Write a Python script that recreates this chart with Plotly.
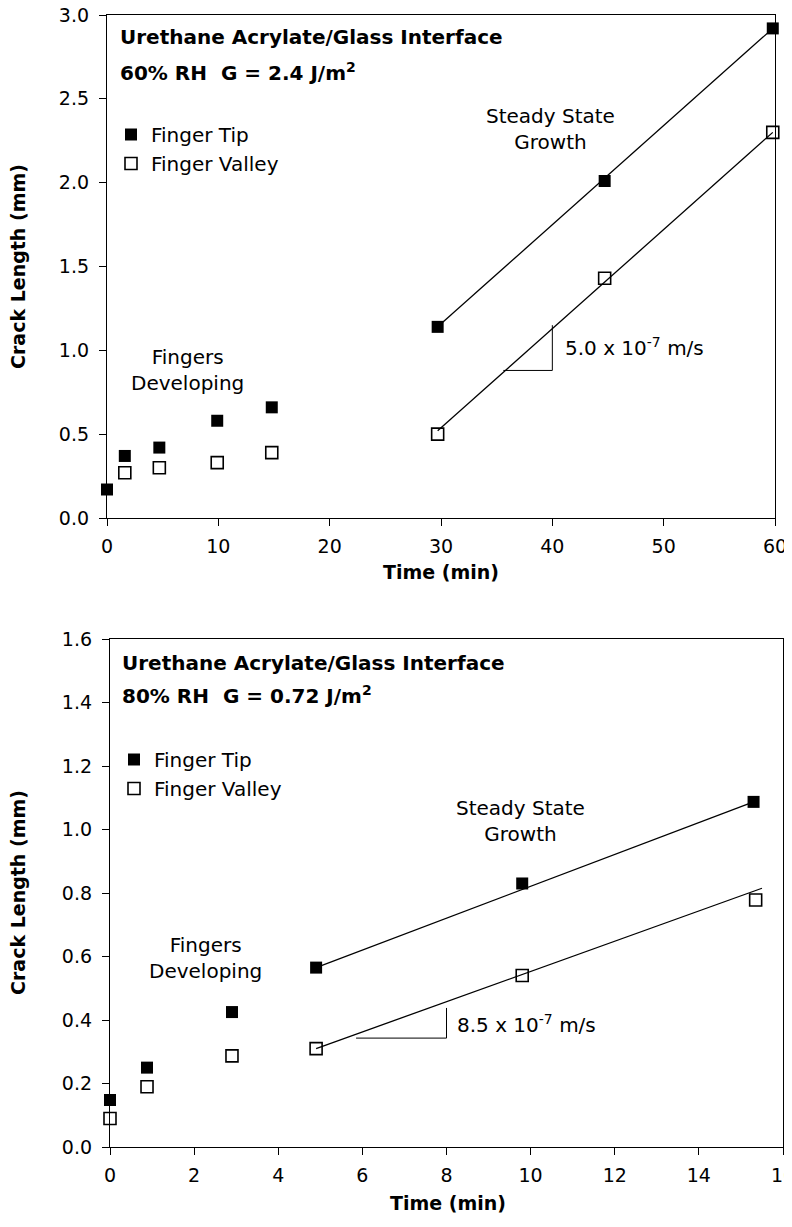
import plotly.graph_objects as go

# ---------------- Data: top panel (60% RH, G = 2.4 J/m2) ----------------
top_tip_t = [0.0, 1.6, 4.7, 9.9, 14.8, 29.7, 44.7, 59.8]
top_tip_len = [0.17, 0.37, 0.42, 0.58, 0.66, 1.14, 2.01, 2.92]
top_valley_t = [1.6, 4.7, 9.9, 14.8, 29.7, 44.7, 59.8]
top_valley_len = [0.27, 0.30, 0.33, 0.39, 0.50, 1.43, 2.30]
top_tip_fit_t = [29.7, 59.8]
top_tip_fit_len = [1.14, 2.92]
top_valley_fit_t = [29.7, 59.8]
top_valley_fit_len = [0.52, 2.30]
top_slope_tri_t = [35.6, 40.0, 40.0]
top_slope_tri_len = [0.88, 0.88, 1.15]
top_slope_label = "5.0 x 10<sup>-7</sup> m/s"

# ---------------- Data: bottom panel (80% RH, G = 0.72 J/m2) ----------------
bot_tip_t = [0.0, 0.88, 2.9, 4.9, 9.8, 15.3]
bot_tip_len = [0.148, 0.25, 0.425, 0.565, 0.83, 1.087]
bot_valley_t = [0.0, 0.88, 2.9, 4.9, 9.8, 15.35]
bot_valley_len = [0.09, 0.19, 0.287, 0.31, 0.54, 0.778]
bot_tip_fit_t = [4.9, 15.3]
bot_tip_fit_len = [0.565, 1.087]
bot_valley_fit_t = [4.9, 15.5]
bot_valley_fit_len = [0.31, 0.815]
bot_slope_tri_t = [5.85, 8.0, 8.0]
bot_slope_tri_len = [0.343, 0.343, 0.438]
bot_slope_label = "8.5 x 10<sup>-7</sup> m/s"

top_x_ticks = [0, 10, 20, 30, 40, 50, 60]
top_y_ticks = [0.0, 0.5, 1.0, 1.5, 2.0, 2.5, 3.0]
bot_x_ticks = [0, 2, 4, 6, 8, 10, 12, 14, 16]
bot_y_ticks = [0.0, 0.2, 0.4, 0.6, 0.8, 1.0, 1.2, 1.4, 1.6]

W, H = 792, 1227
OFF = 8  # page body margin: figure origin sits 8 px in from the window corner
FONT = "DejaVu Sans"


def px(x):
    return (x - OFF) / W


def py(y):
    return 1 - (y - OFF) / H


fig = go.Figure()

line_style = dict(color="black", width=1.3)
tip_marker = dict(symbol="square", size=12, color="black")
valley_marker = dict(symbol="square-open", size=12, color="black",
                     line=dict(color="black", width=1.6))

# top panel traces
fig.add_trace(go.Scatter(x=top_tip_fit_t, y=top_tip_fit_len, mode="lines", line=line_style,
                         showlegend=False, xaxis="x", yaxis="y", hoverinfo="skip"))
fig.add_trace(go.Scatter(x=top_valley_fit_t, y=top_valley_fit_len, mode="lines", line=line_style,
                         showlegend=False, xaxis="x", yaxis="y", hoverinfo="skip"))
fig.add_trace(go.Scatter(x=top_slope_tri_t, y=top_slope_tri_len, mode="lines",
                         line=dict(color="black", width=1), showlegend=False,
                         xaxis="x", yaxis="y", hoverinfo="skip"))
fig.add_trace(go.Scatter(x=top_tip_t, y=top_tip_len, mode="markers", marker=tip_marker,
                         name="Finger Tip", legend="legend", xaxis="x", yaxis="y",
                         cliponaxis=False))
fig.add_trace(go.Scatter(x=top_valley_t, y=top_valley_len, mode="markers", marker=valley_marker,
                         name="Finger Valley", legend="legend", xaxis="x", yaxis="y",
                         cliponaxis=False))

# bottom panel traces
fig.add_trace(go.Scatter(x=bot_tip_fit_t, y=bot_tip_fit_len, mode="lines", line=line_style,
                         showlegend=False, xaxis="x2", yaxis="y2", hoverinfo="skip"))
fig.add_trace(go.Scatter(x=bot_valley_fit_t, y=bot_valley_fit_len, mode="lines", line=line_style,
                         showlegend=False, xaxis="x2", yaxis="y2", hoverinfo="skip"))
fig.add_trace(go.Scatter(x=bot_slope_tri_t, y=bot_slope_tri_len, mode="lines",
                         line=dict(color="black", width=1), showlegend=False,
                         xaxis="x2", yaxis="y2", hoverinfo="skip"))
fig.add_trace(go.Scatter(x=bot_tip_t, y=bot_tip_len, mode="markers", marker=tip_marker,
                         name="Finger Tip", legend="legend2", xaxis="x2", yaxis="y2",
                         cliponaxis=False))
fig.add_trace(go.Scatter(x=bot_valley_t, y=bot_valley_len, mode="markers", marker=valley_marker,
                         name="Finger Valley", legend="legend2", xaxis="x2", yaxis="y2",
                         cliponaxis=False))

axis_common = dict(showline=True, linecolor="black", linewidth=1.3, mirror=True,
                   ticks="outside", ticklen=7, tickwidth=1.3, tickcolor="black",
                   showgrid=False, zeroline=False, automargin=False,
                   ticklabeloverflow="allow",
                   tickfont=dict(family=FONT, size=19, color="black"))

fig.update_layout(
    width=W, height=H, autosize=False,
    margin=dict(l=0, r=0, t=0, b=0, pad=0, autoexpand=False),
    paper_bgcolor="white", plot_bgcolor="white",
    font=dict(family=FONT, color="black"),
    xaxis=dict(domain=[px(107), px(775)], range=[0, 60], tickvals=top_x_ticks,
               anchor="y", ticklabelstandoff=4, **axis_common),
    yaxis=dict(domain=[py(518), py(15)], range=[0, 3.0], tickvals=top_y_ticks,
               tickformat=".1f", anchor="x", ticklabelstandoff=6, **axis_common),
    xaxis2=dict(domain=[px(110), px(783)], range=[0, 16], tickvals=bot_x_ticks,
                anchor="y2", ticklabelstandoff=4, **axis_common),
    yaxis2=dict(domain=[py(1147), py(639)], range=[0, 1.6], tickvals=bot_y_ticks,
                tickformat=".1f", anchor="x2", ticklabelstandoff=6, **axis_common),
    legend=dict(x=px(111), y=py(115), xanchor="left", yanchor="top",
                bgcolor="rgba(0,0,0,0)", font=dict(family=FONT, size=20, color="black"),
                itemwidth=30, tracegroupgap=0),
    legend2=dict(x=px(114), y=py(740), xanchor="left", yanchor="top",
                 bgcolor="rgba(0,0,0,0)", font=dict(family=FONT, size=20, color="black"),
                 itemwidth=30, tracegroupgap=0),
)

ann = []
bold = dict(family=FONT, size=20, color="black")
plain = dict(family=FONT, size=20, color="black")

# panel titles
ann += [
    dict(text="<b>Urethane Acrylate/Glass Interface</b>", x=px(118), y=py(37),
         xref="paper", yref="paper", xanchor="left", yanchor="middle", showarrow=False, font=bold),
    dict(text="<b>60% RH  G = 2.4 J/m<sup>2</sup></b>", x=px(118), y=py(72),
         xref="paper", yref="paper", xanchor="left", yanchor="middle", showarrow=False, font=bold),
    dict(text="<b>Urethane Acrylate/Glass Interface</b>", x=px(120), y=py(663),
         xref="paper", yref="paper", xanchor="left", yanchor="middle", showarrow=False, font=bold),
    dict(text="<b>80% RH  G = 0.72 J/m<sup>2</sup></b>", x=px(120), y=py(695),
         xref="paper", yref="paper", xanchor="left", yanchor="middle", showarrow=False, font=bold),
]

# in-plot labels
ann += [
    dict(text="Fingers<br>Developing", x=7.2, y=0.88, xref="x", yref="y",
         xanchor="center", yanchor="middle", showarrow=False, font=plain, align="center"),
    dict(text="Steady State<br>Growth", x=39.8, y=2.32, xref="x", yref="y",
         xanchor="center", yanchor="middle", showarrow=False, font=plain, align="center"),
    dict(text=top_slope_label, x=41.0, y=1.02, xref="x", yref="y", xanchor="left",
         yanchor="middle", showarrow=False, font=plain),
    dict(text="Fingers<br>Developing", x=2.26, y=0.595, xref="x2", yref="y2",
         xanchor="center", yanchor="middle", showarrow=False, font=plain, align="center"),
    dict(text="Steady State<br>Growth", x=9.75, y=1.027, xref="x2", yref="y2",
         xanchor="center", yanchor="middle", showarrow=False, font=plain, align="center"),
    dict(text=bot_slope_label, x=8.2, y=0.387, xref="x2", yref="y2", xanchor="left",
         yanchor="middle", showarrow=False, font=plain),
]

# axis titles
axt = dict(family=FONT, size=19, color="black")
ann += [
    dict(text="<b>Crack Length (mm)</b>", x=px(18), y=py(267), xref="paper", yref="paper",
         xanchor="center", yanchor="middle", textangle=-90, showarrow=False, font=axt),
    dict(text="<b>Time (min)</b>", x=px(441), y=py(572), xref="paper", yref="paper",
         xanchor="center", yanchor="middle", showarrow=False, font=axt),
    dict(text="<b>Crack Length (mm)</b>", x=px(18), y=py(893), xref="paper", yref="paper",
         xanchor="center", yanchor="middle", textangle=-90, showarrow=False, font=axt),
    dict(text="<b>Time (min)</b>", x=px(448), y=py(1203), xref="paper", yref="paper",
         xanchor="center", yanchor="middle", showarrow=False, font=axt),
]

fig.update_layout(annotations=ann)
fig.write_html("out.html")
